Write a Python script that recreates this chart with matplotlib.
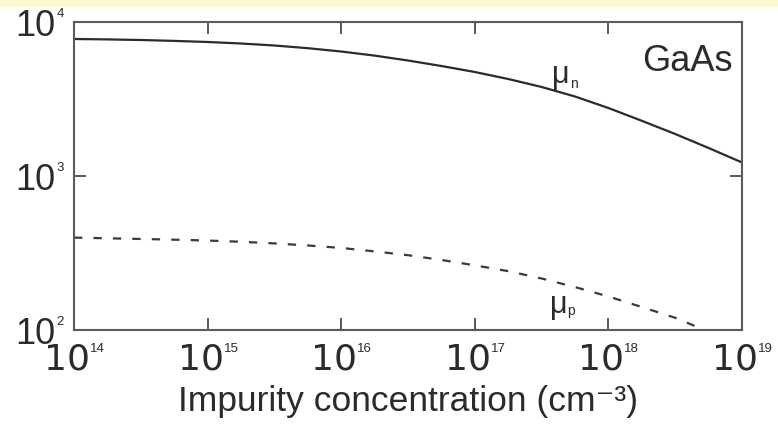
import numpy as np
import matplotlib.pyplot as plt
from matplotlib.patches import Rectangle
from matplotlib.transforms import ScaledTranslation

plt.rcParams['font.family'] = ['Liberation Sans', 'DejaVu Sans']
plt.rcParams['lines.scale_dashes'] = False

# impurity concentration (cm^-3), quarter-decade steps, and mobilities
log_conc_n = [14.0, 14.25, 14.5, 14.75, 15.0, 15.25, 15.5, 15.75, 16.0, 16.25, 16.5,
              16.75, 17.0, 17.25, 17.5, 17.75, 18.0, 18.25, 18.5, 18.75, 19.0]
mu_n = [7756, 7709, 7640, 7539, 7416, 7251, 7038, 6760, 6432, 6050, 5623,
        5180, 4735, 4265, 3785, 3283, 2764, 2283, 1874, 1520, 1224]

log_conc_p = [14.0, 14.25, 14.5, 14.75, 15.0, 15.25, 15.5, 15.75, 16.0, 16.25,
              16.5, 16.75, 17.0, 17.25, 17.5, 17.75, 18.0, 18.25, 18.5, 18.72]
mu_p = [398, 394, 390, 386, 381, 374, 365, 354, 341, 324,
        306, 285, 263, 241, 216, 190, 165, 141, 120, 100]

x_exps = [14, 15, 16, 17, 18, 19]
y_exps = [2, 3, 4]

ink = '#2b2b2b'
frame = '#5a5a5a'

fig = plt.figure(figsize=(7.78, 4.29), dpi=100)
fig.patches.append(Rectangle((0, 1 - 6 / 429), 1, 6 / 429, transform=fig.transFigure,
                             color='#fdf9cf', zorder=0))
ax = fig.add_axes([74 / 778, 1 - 330 / 429, 668 / 778, 308 / 429])

ax.plot(np.power(10.0, log_conc_n), mu_n, color=ink, lw=1.6)
ax.plot(np.power(10.0, log_conc_p), mu_p, color='#3a3a3a', lw=1.6, dashes=(6, 8))

ax.set_xscale('log')
ax.set_yscale('log')
ax.set_xlim(1e14, 1e19)
ax.set_ylim(1e2, 1e4)

ax.set_xticks([10.0 ** e for e in x_exps])
ax.set_xticklabels(['10'] * len(x_exps), fontsize=26, family='DejaVu Sans')
ax.set_yticks([10.0 ** e for e in y_exps])
ax.set_yticklabels(['10'] * len(y_exps), fontsize=26)
ax.minorticks_off()
ax.tick_params(which='major', direction='in', length=8.5, width=1.4, color=frame,
               top=True, right=True, labelcolor=ink)
ax.tick_params(axis='x', pad=9)
ax.tick_params(axis='y', pad=13.5)
for s in ax.spines.values():
    s.set_color(frame)
    s.set_linewidth(1.5)

# the whole "10^n" sits centred on the tick, so nudge the "10" left a little
shift = ScaledTranslation(-7 / 100, 0, fig.dpi_scale_trans)
for lab in ax.get_xticklabels():
    lab.set_transform(lab.get_transform() + shift)

# small exponents next to each "10"
for e in x_exps:
    ax.annotate(str(e), xy=(10.0 ** e, 0), xycoords=('data', 'axes fraction'),
                xytext=(11.5, -9.2), textcoords='offset points',
                fontsize=9.5, color=ink, ha='left', va='top')
for e in y_exps:
    ax.annotate(str(e), xy=(0, 10.0 ** e), xycoords=('axes fraction', 'data'),
                xytext=(-12.5, 10), textcoords='offset points',
                fontsize=9.5, color=ink, ha='left', va='top')

ax.set_xlabel('Impurity concentration (cm⁻³)', fontsize=25.5, color=ink, labelpad=6)

ax.text(0.986, 0.93, 'GaAs', transform=ax.transAxes, fontsize=26, color=ink,
        ha='right', va='top')

# curve labels
ax.text(10 ** 17.58, 4020, 'μ', fontsize=22, color=ink, ha='left', va='baseline')
ax.annotate('n', xy=(10 ** 17.58, 4020), xytext=(12.8, -3.5), textcoords='offset points',
            fontsize=10, color=ink, ha='left', va='baseline')
ax.text(10 ** 17.56, 129, 'μ', fontsize=22, color=ink, ha='left', va='baseline')
ax.annotate('p', xy=(10 ** 17.56, 129), xytext=(12.8, -1.5), textcoords='offset points',
            fontsize=10, color=ink, ha='left', va='baseline')

fig.savefig('out.png', dpi=100)
